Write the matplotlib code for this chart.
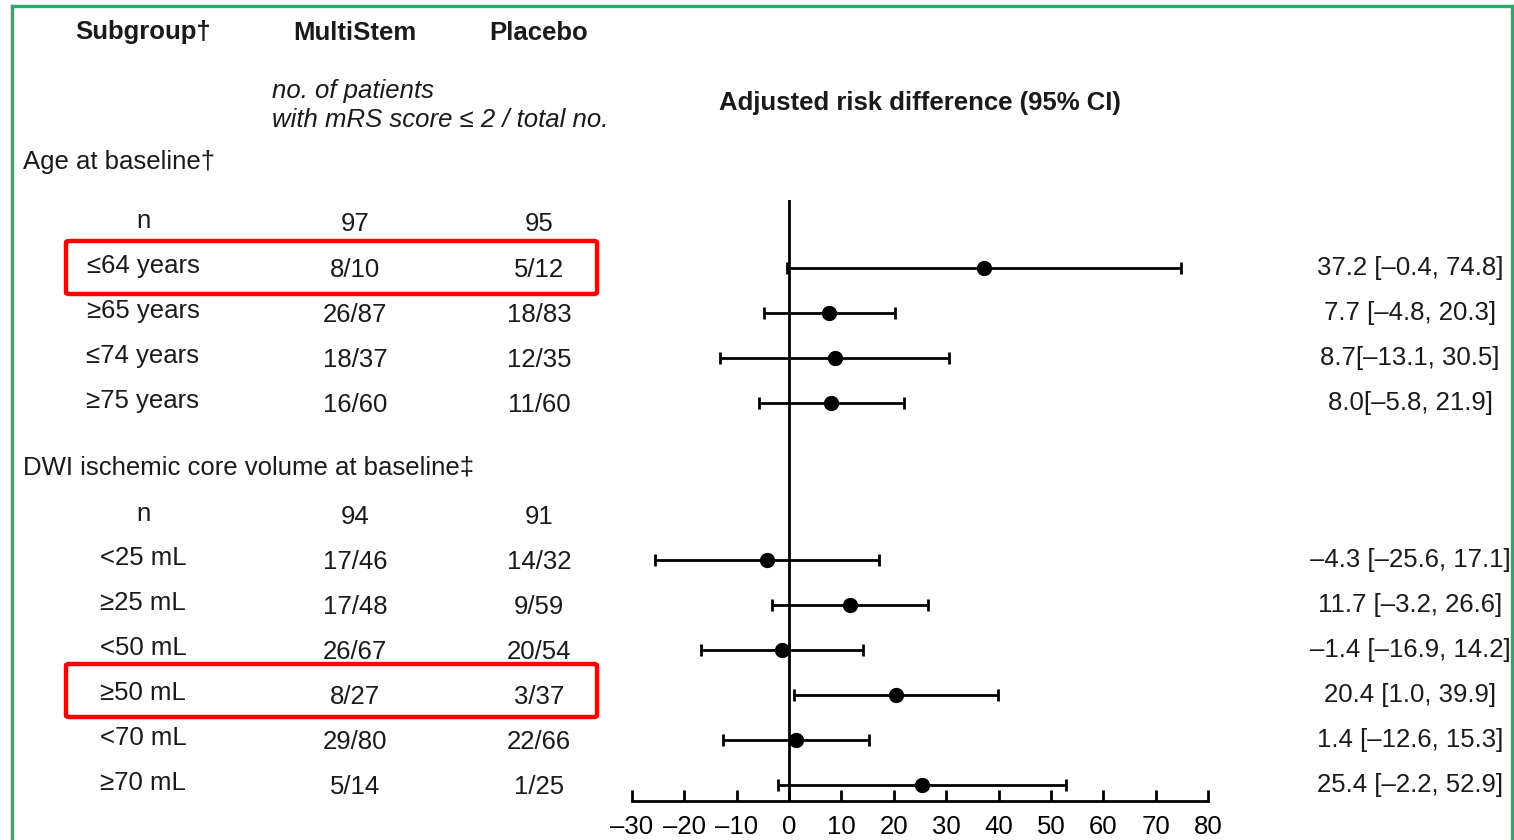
import matplotlib.pyplot as plt
from matplotlib.patches import FancyBboxPatch
from matplotlib.lines import Line2D

plt.rcParams['font.family'] = ['Liberation Sans', 'DejaVu Sans']
plt.rcParams['text.color'] = '#1a1a1a'

# Age at baseline subgroups
age_labels = ['\u226464 years', '\u226565 years', '\u226474 years', '\u226575 years']
age_multistem = ['8/10', '26/87', '18/37', '16/60']
age_placebo = ['5/12', '18/83', '12/35', '11/60']
age_n = ['97', '95']
age_est = [37.2, 7.7, 8.7, 8.0]
age_lo = [-0.4, -4.8, -13.1, -5.8]
age_hi = [74.8, 20.3, 30.5, 21.9]
age_text = ['37.2 [\u20130.4, 74.8]', '7.7 [\u20134.8, 20.3]',
            '8.7[\u201313.1, 30.5]', '8.0[\u20135.8, 21.9]']

# DWI ischemic core volume subgroups
dwi_labels = ['<25 mL', '\u226525 mL', '<50 mL', '\u226550 mL', '<70 mL', '\u226570 mL']
dwi_multistem = ['17/46', '17/48', '26/67', '8/27', '29/80', '5/14']
dwi_placebo = ['14/32', '9/59', '20/54', '3/37', '22/66', '1/25']
dwi_n = ['94', '91']
dwi_est = [-4.3, 11.7, -1.4, 20.4, 1.4, 25.4]
dwi_lo = [-25.6, -3.2, -16.9, 1.0, -12.6, -2.2]
dwi_hi = [17.1, 26.6, 14.2, 39.9, 15.3, 52.9]
dwi_text = ['\u20134.3 [\u201325.6, 17.1]', '11.7 [\u20133.2, 26.6]',
            '\u20131.4 [\u201316.9, 14.2]', '20.4 [1.0, 39.9]',
            '1.4 [\u201312.6, 15.3]', '25.4 [\u20132.2, 52.9]']

xticks = [-30, -20, -10, 0, 10, 20, 30, 40, 50, 60, 70, 80]

FS = 18.5
W, H = 1514, 840
fig = plt.figure(figsize=(W / 100, H / 100), dpi=100)


def fx(px):
    return px / W


def fy(py):
    return 1 - py / H


# forest plot axes; y runs in pixel rows from the top
ax = fig.add_axes([fx(632), fy(801), (1208 - 632) / W, (801 - 200) / H])
ax.set_xlim(-30, 80)
ax.set_ylim(801, 200)
for s in ['top', 'right', 'left']:
    ax.spines[s].set_visible(False)
ax.spines['bottom'].set_linewidth(2)
ax.set_yticks([])
ax.set_xticks(xticks)
ax.set_xticklabels([str(t).replace('-', '\u2013') for t in xticks])
ax.tick_params(axis='x', direction='in', length=8, width=2, labelsize=FS, pad=10)
ax.axvline(0, color='black', lw=2)

age_y = [268 + 45 * i for i in range(len(age_labels))]
dwi_y = [560 + 45 * i for i in range(len(dwi_labels))]

for est, lo, hi, ys in [(age_est, age_lo, age_hi, age_y), (dwi_est, dwi_lo, dwi_hi, dwi_y)]:
    err = [[e - l for e, l in zip(est, lo)], [h - e for e, h in zip(est, hi)]]
    ax.errorbar(est, ys, xerr=err, fmt='o', color='black', ms=10,
                elinewidth=2, capsize=4.5, capthick=2)

# headers
fig.text(fx(143), fy(32), 'Subgroup\u2020', ha='center', va='center', fontsize=FS, fontweight='bold')
fig.text(fx(355), fy(33), 'MultiStem', ha='center', va='center', fontsize=FS, fontweight='bold')
fig.text(fx(539), fy(33), 'Placebo', ha='center', va='center', fontsize=FS, fontweight='bold')
fig.text(fx(272), fy(91), 'no. of patients', ha='left', va='center', fontsize=FS, style='italic')
fig.text(fx(272), fy(120), 'with mRS score \u2264 2 / total no.', ha='left', va='center',
         fontsize=FS, style='italic')
fig.text(fx(920), fy(103), 'Adjusted risk difference (95% CI)', ha='center', va='center',
         fontsize=FS, fontweight='bold')

fig.text(fx(23), fy(162), 'Age at baseline\u2020', ha='left', va='center', fontsize=FS)
fig.text(fx(23), fy(467), 'DWI ischemic core volume at baseline\u2021', ha='left', va='center', fontsize=FS)

# table columns
for ny, nvals, labels, ms, pl, txt, ys in [
        (222, age_n, age_labels, age_multistem, age_placebo, age_text, age_y),
        (515, dwi_n, dwi_labels, dwi_multistem, dwi_placebo, dwi_text, dwi_y)]:
    fig.text(fx(143), fy(ny - 1), 'n', ha='center', va='center', fontsize=FS)
    fig.text(fx(355), fy(ny + 2), nvals[0], ha='center', va='center', fontsize=FS)
    fig.text(fx(539), fy(ny + 2), nvals[1], ha='center', va='center', fontsize=FS)
    for i, y in enumerate(ys):
        fig.text(fx(143), fy(y - 2), labels[i], ha='center', va='center', fontsize=FS)
        fig.text(fx(355), fy(y + 2), ms[i], ha='center', va='center', fontsize=FS)
        fig.text(fx(539), fy(y + 2), pl[i], ha='center', va='center', fontsize=FS)
        fig.text(fx(1410), fy(y), txt[i], ha='center', va='center', fontsize=FS)

# red highlight boxes
for top in [241, 664]:
    box = FancyBboxPatch((fx(66), fy(top + 53)), (597 - 66) / W, 53 / H,
                         boxstyle='round,pad=0,rounding_size=0.002',
                         transform=fig.transFigure, fill=False,
                         edgecolor='#ff0000', lw=3.2)
    fig.patches.append(box)

# green frame
green = '#2ea86e'
for xs, ys in [([12, 12], [6, 850]), ([12, 1512], [6, 6]), ([1512, 1512], [6, 850])]:
    fig.lines.append(Line2D([fx(v) for v in xs], [fy(v) for v in ys],
                            transform=fig.transFigure, color=green, lw=2.4))

fig.savefig('out.png', dpi=100)
